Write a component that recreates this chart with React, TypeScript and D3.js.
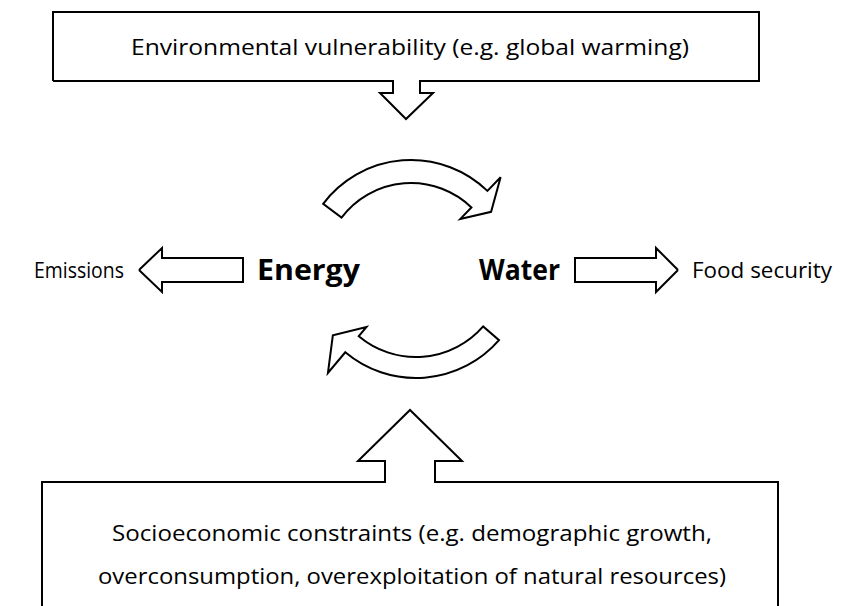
import * as d3 from 'd3';
import { useEffect, useRef } from 'react';

// labels
const topText = 'Environmental vulnerability (e.g. global warming)';
const bottomLines = [
  'Socioeconomic constraints (e.g. demographic growth,',
  'overconsumption, overexploitation of natural resources)',
];
const centerNodes = ['Energy', 'Water'];
const sideLabels = ['Emissions', 'Food security'];

const width = 845, height = 606;
const FONT = '"Open Sans", "Noto Sans", sans-serif';

// point on a circle, angle in degrees clockwise from 12 o'clock
const pt = (cx: number, cy: number, r: number, a: number): [number, number] => {
  const t = (a * Math.PI) / 180;
  return [cx + r * Math.sin(t), cy - r * Math.cos(t)];
};

const curvedArrow = (o: any) => {
  const p = d3.path();
  const rad = (a: number) => ((a - 90) * Math.PI) / 180;
  const s = pt(o.cx, o.cy, o.rOut, o.a0);
  p.moveTo(s[0], s[1]);
  p.arc(o.cx, o.cy, o.rOut, rad(o.a0), rad(o.a1), false);
  const w1 = pt(o.cx, o.cy, o.wOut, o.a1);
  const tip = pt(o.cx, o.cy, o.tipR, o.tipA);
  const w2 = pt(o.cx, o.cy, o.wIn, o.a1);
  const e = pt(o.cx, o.cy, o.rIn, o.a1);
  p.lineTo(w1[0], w1[1]);
  p.lineTo(tip[0], tip[1]);
  p.lineTo(w2[0], w2[1]);
  p.lineTo(e[0], e[1]);
  p.arc(o.cx, o.cy, o.rIn, rad(o.a1), rad(o.a0), true);
  p.closePath();
  return p.toString();
};

// horizontal block arrow: tip x, head base x, tail x
const blockArrow = (tip: number, base: number, tail: number, y: number) =>
  d3.line()([[tip, y], [base, y - 22], [base, y - 12], [tail, y - 12], [tail, y + 12], [base, y + 12], [base, y + 22], [tip, y]]);

const App = () => {
  const svgRef = useRef(null);

  useEffect(() => {
    const svg = d3.select(svgRef.current);
    svg.selectAll('*').remove();
    const line = d3.line();
    const stroke = (sel: any) => sel.attr('fill', '#fff').attr('stroke', '#000').attr('stroke-width', 2).attr('stroke-linejoin', 'miter');

    // top box with arrow notch
    svg.append('path')
      .attr('d', line([[53, 81], [53, 12], [759, 12], [759, 81], [420, 81], [420, 93], [433, 93], [406, 119], [380, 93], [393, 93], [393, 81], [53, 81]]))
      .call(stroke);
    svg.append('text')
      .attr('x', 410).attr('y', 55).attr('text-anchor', 'middle')
      .attr('font-family', FONT).attr('font-size', 22)
      .attr('textLength', 558).attr('lengthAdjust', 'spacingAndGlyphs')
      .text(topText);

    // curved arrows
    svg.append('path')
      .attr('d', curvedArrow({ cx: 411, cy: 270, rIn: 87, rOut: 110, a0: -53, a1: 44, wIn: 71, wOut: 129, tipR: 99, tipA: 54 }))
      .call(stroke);
    svg.append('path')
      .attr('d', curvedArrow({ cx: 416, cy: 268, rIn: 89, rOut: 110, a0: 131, a1: 220, wIn: 77, wOut: 137, tipR: 107, tipA: 231 }))
      .call(stroke);

    // middle row
    const my = 270;
    svg.append('path').attr('d', blockArrow(139, 162, 243, my)).call(stroke);
    svg.append('path').attr('d', blockArrow(678, 656, 575, my)).call(stroke);

    svg.append('text').attr('x', 124).attr('y', my + 8).attr('text-anchor', 'end')
      .attr('font-family', FONT).attr('font-size', 22)
      .attr('textLength', 90).attr('lengthAdjust', 'spacingAndGlyphs').text(sideLabels[0]);
    svg.append('text').attr('x', 692).attr('y', my + 8)
      .attr('font-family', FONT).attr('font-size', 22)
      .attr('textLength', 140).attr('lengthAdjust', 'spacingAndGlyphs').text(sideLabels[1]);
    svg.append('text').attr('x', 257).attr('y', my + 10)
      .attr('font-family', FONT).attr('font-size', 28).attr('font-weight', 'bold')
      .attr('textLength', 103).attr('lengthAdjust', 'spacingAndGlyphs').text(centerNodes[0]);
    svg.append('text').attr('x', 479).attr('y', my + 10)
      .attr('font-family', FONT).attr('font-size', 28).attr('font-weight', 'bold')
      .attr('textLength', 81).attr('lengthAdjust', 'spacingAndGlyphs').text(centerNodes[1]);

    // bottom box with up arrow
    svg.append('path')
      .attr('d', line([[42, 620], [42, 482], [385, 482], [385, 461], [358, 461], [410, 410], [462, 461], [435, 461], [435, 482], [778, 482], [778, 620]]))
      .call(stroke);
    bottomLines.forEach((t, i) => {
      svg.append('text')
        .attr('x', 412).attr('y', 541 + i * 43).attr('text-anchor', 'middle')
        .attr('font-family', FONT).attr('font-size', 22)
        .attr('textLength', i === 0 ? 600 : 628).attr('lengthAdjust', 'spacingAndGlyphs')
        .text(t);
    });
  }, []);

  return <svg ref={svgRef} width={width} height={height} style={{ position: 'absolute', left: 0, top: 0, background: '#fff' }}></svg>;
};

export default App;
